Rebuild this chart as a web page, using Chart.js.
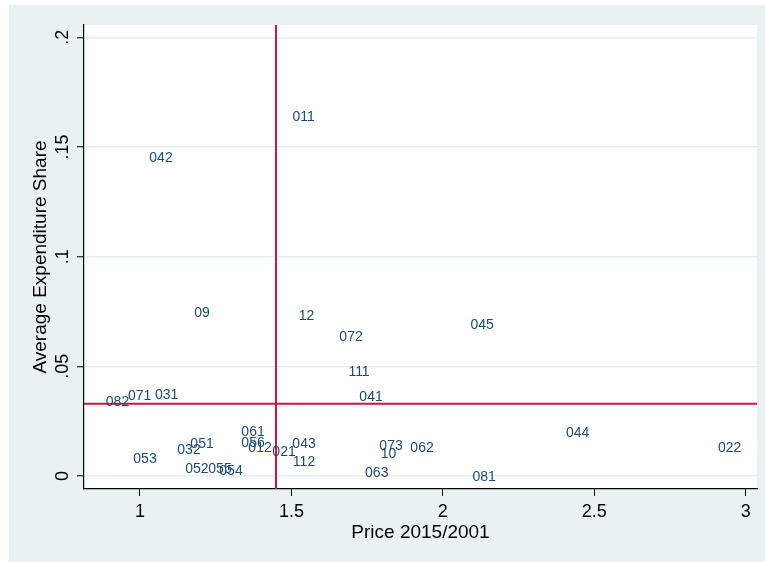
<!DOCTYPE html>
<html>
<head>
<meta charset="utf-8">
<script src="https://cdn.jsdelivr.net/npm/chart.js@4.4.1/dist/chart.umd.min.js"></script>
<style>
  html, body { margin: 0; padding: 0; background: #ffffff; }
  #bg { position: absolute; left: 9px; top: 5px; width: 756px; height: 557px; background: #eaf1f3; }
  #wrap { position: absolute; left: 0; top: 0; width: 765px; height: 562px; }
</style>
</head>
<body>
<div id="bg"></div>
<div id="wrap"><canvas id="c" width="765" height="562"></canvas></div>
<script>
// ---- data ----
const codes = ['011','042','09','12','072','045','111','041','082','071','031','061','056','012','021','043','112','051','032','053','052','055','054','073','10','062','063','081','044','022'];
const price = [1.5406,1.0694,1.2048,1.5499,1.6968,2.1295,1.7232,1.7629,0.9257,0.9990,1.0882,1.3732,1.3732,1.3963,1.4756,1.5416,1.5416,1.2048,1.1618,1.0165,1.1876,1.2642,1.3005,1.8289,1.8207,1.9313,1.7817,2.1361,2.4448,2.9468];
const share = [0.1642,0.1455,0.0748,0.0734,0.0638,0.0693,0.0479,0.0365,0.0343,0.0369,0.0374,0.0205,0.0155,0.0132,0.0114,0.0150,0.0068,0.0150,0.0123,0.0082,0.0036,0.0036,0.0027,0.0141,0.0105,0.0132,0.0018,0.0000,0.0201,0.0132];
const refPrice = [1.449];
const refShare = [0.033];
const xTicks = [1, 1.5, 2, 2.5, 3];
const yTicks = [0, 0.05, 0.1, 0.15, 0.2];
const xRange = [0.8151, 3.0373];
const yRange = [-0.0059, 0.2056];

const FONT = "'Liberation Sans', Arial, sans-serif";
const RED = '#cc1540';
const LABEL_COLOR = '#1f4a74';

const points = price.map((p, i) => ({ x: p, y: share[i] }));

const plotBg = {
  id: 'plotBg',
  beforeDraw(chart) {
    const { ctx, chartArea: a } = chart;
    ctx.save();
    ctx.fillStyle = '#ffffff';
    ctx.fillRect(a.left, a.top, a.right - a.left, a.bottom - a.top);
    ctx.restore();
  }
};

const markerLabels = {
  id: 'markerLabels',
  afterDatasetsDraw(chart) {
    const meta = chart.getDatasetMeta(2);
    const { ctx } = chart;
    ctx.save();
    ctx.font = '14px ' + FONT;
    ctx.fillStyle = LABEL_COLOR;
    ctx.textAlign = 'center';
    ctx.textBaseline = 'middle';
    meta.data.forEach((el, i) => {
      ctx.fillText(codes[i], el.x, el.y + 1);
    });
    ctx.restore();
  }
};

new Chart(document.getElementById('c'), {
  type: 'scatter',
  data: {
    datasets: [
      {
        type: 'line',
        data: [{ x: refPrice[0], y: yRange[0] }, { x: refPrice[0], y: yRange[1] }],
        borderColor: RED, borderWidth: 2, pointRadius: 0, fill: false
      },
      {
        type: 'line',
        data: [{ x: xRange[0], y: refShare[0] }, { x: xRange[1], y: refShare[0] }],
        borderColor: RED, borderWidth: 2, pointRadius: 0, fill: false
      },
      {
        data: points, pointRadius: 0, pointHoverRadius: 0
      }
    ]
  },
  options: {
    responsive: false,
    animation: false,
    events: [],
    layout: { padding: { left: 0, top: 25, right: 8, bottom: 0 } },
    plugins: { legend: { display: false }, tooltip: { enabled: false } },
    scales: {
      x: {
        type: 'linear', position: 'bottom',
        min: xRange[0], max: xRange[1],
        afterBuildTicks: s => { s.ticks = xTicks.map(v => ({ value: v })); },
        afterFit: s => { s.height = 73; },
        ticks: {
          color: '#000', font: { family: FONT, size: 18 }, padding: 5,
          callback: v => String(v)
        },
        grid: { drawOnChartArea: false, drawTicks: true, tickLength: 7, tickColor: '#000', tickWidth: 1 },
        border: { color: '#000', width: 1.2 },
        title: {
          display: true, text: 'Price 2015/2001', color: '#000',
          font: { family: FONT, size: 19 }, padding: { top: 0, bottom: 18 }
        }
      },
      y: {
        type: 'linear', position: 'left',
        min: yRange[0], max: yRange[1],
        afterBuildTicks: s => { s.ticks = yTicks.map(v => ({ value: v })); },
        afterFit: s => { s.width = 84; },
        ticks: {
          color: '#000', font: { family: FONT, size: 18 }, padding: 1,
          minRotation: 90, maxRotation: 90, crossAlign: 'center',
          callback: v => (v === 0 ? '0' : String(v).replace(/^0\./, '.'))
        },
        grid: { color: '#e6eef2', lineWidth: 1.5, drawTicks: true, tickLength: 7, tickColor: '#000', tickWidth: 1 },
        border: { color: '#000', width: 1.2 },
        title: {
          display: true, text: 'Average Expenditure Share', color: '#000',
          font: { family: FONT, size: 19 }, padding: { top: 29, bottom: 0 }
        }
      }
    }
  },
  plugins: [plotBg, markerLabels]
});
</script>
</body>
</html>
